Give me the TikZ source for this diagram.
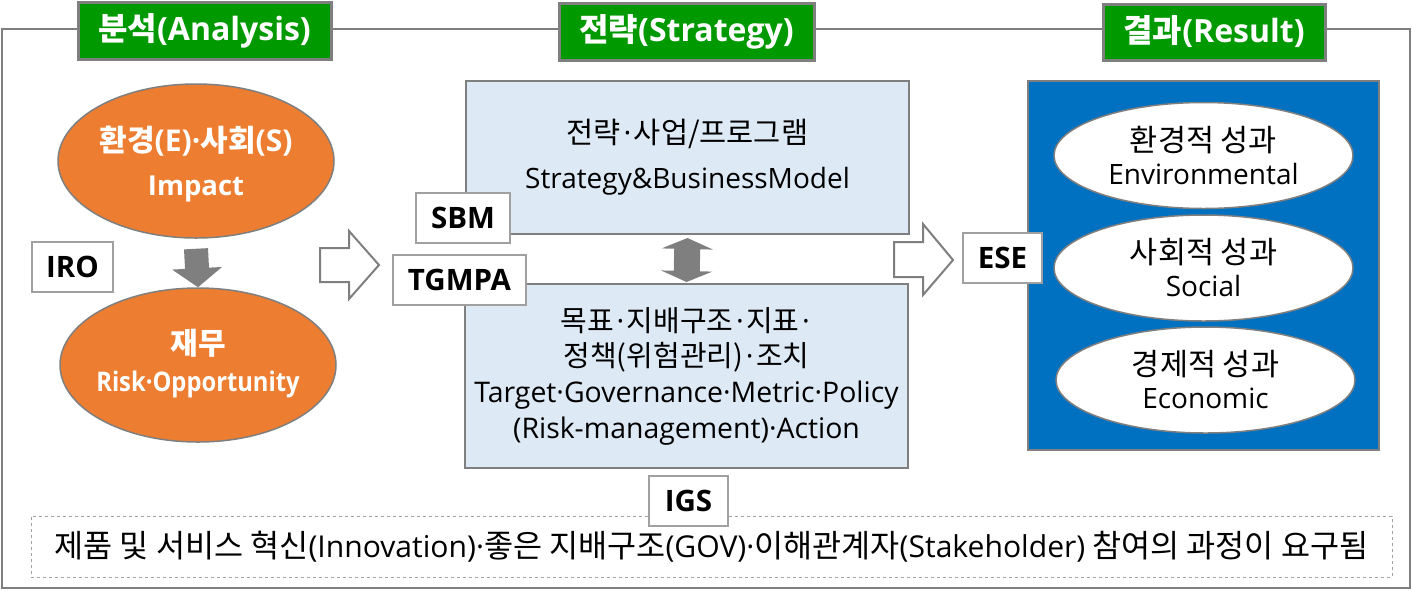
\documentclass[tikz,border=0pt]{standalone}
\usepackage{fontspec}
\usepackage{graphicx}
\setmainfont{Noto Sans CJK KR}
\newfontfamily\en{Open Sans}
\usetikzlibrary{shapes.geometric,arrows.meta}
\definecolor{hgreen}{RGB}{0,153,0}
\definecolor{bgray}{RGB}{127,127,127}
\definecolor{lgray}{RGB}{160,160,160}
\definecolor{orng}{RGB}{237,125,49}
\definecolor{lblue}{RGB}{222,233,246}
\definecolor{dblue}{RGB}{0,112,192}
\newcommand\E[1]{{\en #1}}
\newcommand\D{\kern2.5pt{\en ·}\kern2.5pt}
\newcommand\fs[2]{\fontsize{#1}{#2}\selectfont}
\tikzset{
  header/.style={draw=bgray, line width=3, fill=hgreen, text=white, inner sep=0,
    font=\fs{32}{34}\bfseries},
  orangeell/.style={ellipse, draw=bgray, line width=1.5, fill=orng, inner sep=0,
    minimum width=276, minimum height=154},
  orangetext/.style={text=white, inner sep=0, align=center},
  tag/.style={draw=lgray, line width=2, fill=white, inner sep=0, minimum height=50,
    font=\en\fs{29.5}{30}\bfseries},
  bluebox/.style={draw=bgray, line width=2, fill=lblue, inner sep=0, align=center},
  whiteell/.style={ellipse, draw=bgray, line width=1.5, fill=white, inner sep=0,
    minimum width=299, minimum height=106, align=center, font=\fs{30.5}{33}},
  blockarrow/.style={draw=bgray, line width=2, fill=white, line join=miter},
  fatarrow/.style={draw=bgray, line width=24}
}
\begin{document}
\begin{tikzpicture}[x=1pt, y=-1pt]
\useasboundingbox (0,0) rectangle (1412,590);
% outer frame
\draw[bgray, line width=2] (2,29) rectangle (1410,588);
% headers
\node[header, minimum width=253, minimum height=57] (h1) at (204.5,30.5) {분석\E{(Analysis)}};
\node[header, minimum width=255, minimum height=57] (h2) at (686.5,31.5) {전략\E{(Strategy)}};
\node[header, minimum width=222, minimum height=56] (h3) at (1214,32) {결과\E{(Result)}};
% analysis column
\node[orangeell] (e1) at (196,161) {};
\node[orangetext, font=\fs{30}{44}\bfseries] (e1t) at ([yshift=-3]e1.center)
  {환경\E{(E)·}사회\E{(S)}\\\E{\fontsize{27.5}{44}\selectfont Impact}};
\node[orangeell] (e2) at (198,365) {};
\node[orangetext, font=\fs{30}{37}\bfseries] (e2t) at ([yshift=1.5]e2.center)
  {재무\\\scalebox{0.88}[1]{\E{\fontsize{27}{37}\selectfont Risk·Opportunity}}};
\draw[fatarrow, -{Triangle[length=19pt,width=49pt]}] ([yshift=-10]e1.south) -- (e2.north);
\node[tag, minimum width=81] (iro) at (72.5,266.5) {IRO};
% arrow analysis -> strategy
\draw[blockarrow] (320,248) -- (349,248) -- (349,231) -- (379,265) -- (349,299) -- (349,282) -- (320,282) -- cycle;
% strategy column
\node[bluebox, minimum width=443, minimum height=153, font=\fs{29.5}{45}] (sbox) at (687.5,157.5)
  {전략\D 사업/프로그램\\\E{\fontsize{28}{45}\selectfont Strategy\&BusinessModel}};
\node[bluebox, minimum width=443, minimum height=184, font=\fs{29}{35.7}] (tbox) at (686.5,376)
  {목표\D 지배구조\D 지표\D\\정책(위험관리)\D 조치\\\E{\fontsize{28.4}{35.7}\selectfont Target·Governance·Metric·Policy}\\\E{\fontsize{28.4}{35.7}\selectfont (Risk-management)·Action}};
\draw[fatarrow, line width=26, {Triangle[length=11pt,width=51pt]}-{Triangle[length=11pt,width=51pt]}]
  ([yshift=-3]sbox.south) -- ([yshift=1]tbox.north);
\node[tag, minimum width=94] (sbm) at (463,218) {SBM};
\node[tag, minimum width=133] (tgmpa) at (459.5,280) {TGMPA};
% arrow strategy -> result
\draw[blockarrow] (894,242) -- (923,242) -- (923,224) -- (953,260) -- (923,295) -- (923,277) -- (894,277) -- cycle;
% result column
\node[draw=bgray, line width=2, fill=dblue, minimum width=351, minimum height=369, inner sep=0] (rbox) at (1203.5,265.5) {};
\node[whiteell] (r1) at (1203.5,155.5) {환경적 성과\\\E{\fontsize{28}{33}\selectfont Environmental}};
\node[whiteell] (r2) at (1203.5,268) {사회적 성과\\\E{\fontsize{28}{33}\selectfont Social}};
\node[whiteell] (r3) at (1205.5,380) {경제적 성과\\\E{\fontsize{28}{33}\selectfont Economic}};
\node[tag, minimum width=79] (ese) at (1002.5,258) {ESE};
% bottom
\node[draw=lgray, line width=1, dashed, minimum width=1361, minimum height=61, inner sep=0, font=\fs{31.6}{33}] (note) at (711.5,546.5)
  {제품 및 서비스 혁신\E{\fontsize{30.1}{33}\selectfont(Innovation)·}좋은 지배구조\E{\fontsize{30.1}{33}\selectfont(GOV)·}이해관계자\E{\fontsize{30.1}{33}\selectfont(Stakeholder)} 참여의 과정이 요구됨};
\node[tag, minimum width=79] (igs) at (688.5,501) {IGS};
\end{tikzpicture}
\end{document}
